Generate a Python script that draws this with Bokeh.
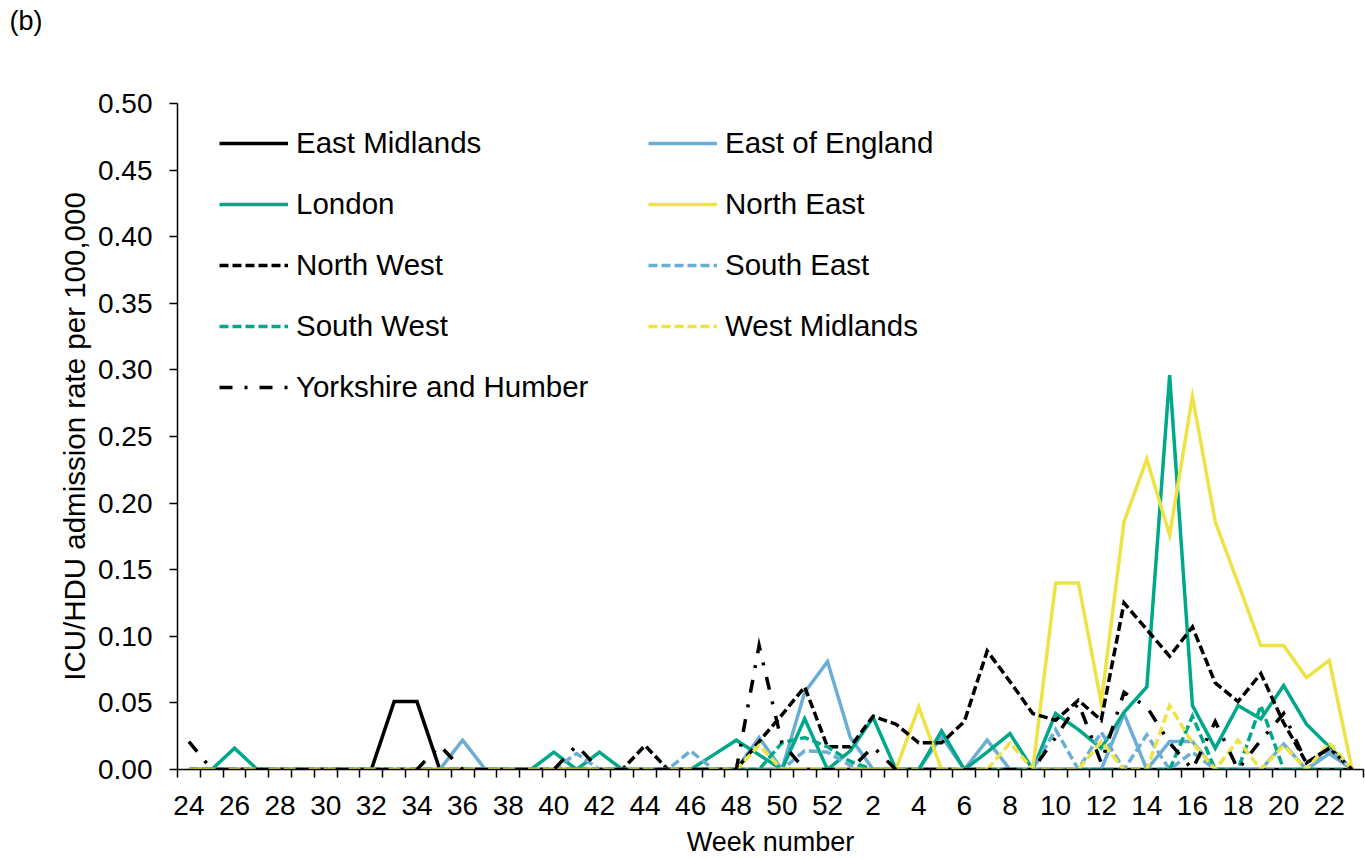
from bokeh.plotting import figure
from bokeh.models import Range1d, FixedTicker, Legend, LegendItem, PrintfTickFormatter
from bokeh.embed import file_html
from bokeh.resources import INLINE

# ---------------- data ----------------
weeks = [24, 25, 26, 27, 28, 29, 30, 31, 32, 33, 34, 35, 36, 37, 38, 39, 40, 41, 42, 43,
         44, 45, 46, 47, 48, 49, 50, 51, 52, 1, 2, 3, 4, 5, 6, 7, 8, 9, 10, 11, 12, 13,
         14, 15, 16, 17, 18, 19, 20, 21, 22, 23]

east_midlands = [0, 0, 0, 0, 0, 0, 0, 0, 0, 0.051, 0.051, 0, 0, 0, 0, 0, 0, 0, 0, 0,
                 0, 0, 0, 0, 0, 0, 0, 0, 0, 0, 0, 0, 0, 0, 0, 0, 0, 0, 0, 0, 0, 0,
                 0, 0, 0, 0, 0, 0, 0, 0, 0, 0]
east_of_england = [0, 0, 0, 0, 0, 0, 0, 0, 0, 0, 0, 0, 0.022, 0, 0, 0, 0, 0, 0, 0,
                   0, 0, 0, 0, 0, 0.024, 0, 0.058, 0.081, 0.024, 0, 0, 0, 0.025, 0, 0.022, 0, 0, 0, 0, 0, 0.042,
                   0, 0.021, 0.021, 0, 0, 0, 0.019, 0, 0.012, 0]
london = [0, 0, 0.016, 0, 0, 0, 0, 0, 0, 0, 0, 0, 0, 0, 0, 0, 0.013, 0, 0.013, 0,
          0, 0, 0, 0.011, 0.022, 0.011, 0, 0.038, 0, 0.014, 0.039, 0, 0, 0.029, 0, 0.013, 0.027, 0, 0.042, 0.030, 0.016, 0.043,
          0.062, 0.296, 0.048, 0.016, 0.048, 0.038, 0.063, 0.034, 0.017, 0]
north_east = [0, 0, 0, 0, 0, 0, 0, 0, 0, 0, 0, 0, 0, 0, 0, 0, 0, 0, 0, 0,
              0, 0, 0, 0, 0, 0, 0, 0, 0, 0, 0, 0, 0.047, 0, 0, 0, 0, 0, 0.140, 0.140, 0.050, 0.186,
              0.233, 0.176, 0.280, 0.186, 0.140, 0.093, 0.093, 0.069, 0.082, 0]
north_west = [0, 0, 0, 0, 0, 0, 0, 0, 0, 0, 0, 0, 0, 0, 0, 0, 0, 0, 0, 0,
              0.018, 0, 0, 0, 0, 0.021, 0.041, 0.062, 0.017, 0.017, 0.040, 0.034, 0.020, 0.020, 0.036, 0.089, 0.066, 0.042, 0.037, 0.052, 0.037, 0.125,
              0.105, 0.085, 0.107, 0.065, 0.051, 0.072, 0.035, 0.005, 0.016, 0]
south_east = [0, 0, 0, 0, 0, 0, 0, 0, 0, 0, 0, 0, 0, 0, 0, 0, 0, 0.012, 0, 0,
              0, 0, 0.014, 0, 0, 0, 0, 0.014, 0.013, 0.003, 0, 0, 0, 0, 0, 0, 0, 0, 0.030, 0, 0.028, 0,
              0.026, 0, 0.013, 0, 0, 0, 0, 0, 0.015, 0]
south_west = [0, 0, 0, 0, 0, 0, 0, 0, 0, 0, 0, 0, 0, 0, 0, 0, 0, 0, 0, 0,
              0, 0, 0, 0, 0, 0, 0.020, 0.024, 0.017, 0.006, 0, 0, 0, 0, 0, 0, 0, 0, 0, 0, 0, 0,
              0, 0, 0.040, 0, 0, 0.048, 0, 0, 0, 0]
west_midlands = [0, 0, 0, 0, 0, 0, 0, 0, 0, 0, 0, 0, 0, 0, 0, 0, 0, 0, 0, 0,
                 0, 0, 0, 0, 0, 0.018, 0, 0, 0, 0, 0, 0, 0, 0, 0, 0, 0.020, 0, 0, 0, 0.021, 0,
                 0, 0.048, 0.020, 0, 0.022, 0, 0.018, 0, 0.020, 0]
yorkshire = [0.021, 0, 0, 0, 0, 0, 0, 0, 0, 0, 0, 0.018, 0, 0, 0, 0, 0, 0.018, 0, 0,
             0, 0, 0, 0, 0, 0.093, 0.020, 0, 0, 0, 0.017, 0, 0, 0, 0, 0, 0, 0, 0.024, 0.050, 0.005, 0.058,
             0.047, 0.020, 0, 0.036, 0, 0.022, 0.042, 0.005, 0.016, 0]

series_names = ["East Midlands", "East of England", "London", "North East", "North West",
                "South East", "South West", "West Midlands", "Yorkshire and Humber"]
series_values = [east_midlands, east_of_england, london, north_east, north_west,
                 south_east, south_west, west_midlands, yorkshire]
panel_letter = "(b)"

BLACK = "#000000"
BLUE = "#6AAED6"
TEAL = "#00A88A"
YELLOW = "#EEE244"
styles = [
    (BLACK, "solid"), (BLUE, "solid"), (TEAL, "solid"), (YELLOW, "solid"),
    (BLACK, "9 4"), (BLUE, "9 4"), (TEAL, "9 4"), (YELLOW, "9 4"),
    (BLACK, "13 12 3 12"),
]

FONT = "Liberation Sans"
x = list(range(len(weeks)))

W, H = 1365, 859
p = figure(width=W, height=H, output_backend="svg", toolbar_location=None,
           x_range=Range1d(-0.5, len(weeks) - 0.5), y_range=Range1d(0, 0.5),
           min_border_left=177, min_border_right=2, min_border_top=103, min_border_bottom=90)
p.outline_line_color = None
p.xgrid.visible = False
p.ygrid.visible = False
p.background_fill_color = "white"
p.border_fill_color = "white"

# panel letter as the plot title, pulled to the top-left corner of the canvas
# (two empty trailing lines make the title panel fill the top border)
p.title.text = panel_letter + "\n\n"
p.title.align = "left"
p.title.offset = -168
p.title.standoff = 11
p.title.text_font = FONT
p.title.text_font_size = "27px"
p.title.text_font_style = "normal"
p.title.text_color = "black"
p.title.vertical_align = "top"

renderers = []
for vals, (col, dash) in zip(series_values, styles):
    r = p.line(x, vals, line_color=col, line_width=3.5, line_dash=dash, line_join="miter")
    renderers.append(r)

# x axis: labels under every other week, tick marks between weeks
xa = p.xaxis[0]
xa.ticker = FixedTicker(ticks=[i for i in x if i % 2 == 0],
                        minor_ticks=[i - 0.5 for i in range(len(weeks) + 1)])
xa.major_label_overrides = {i: str(weeks[i]) for i in x if i % 2 == 0}
xa.major_tick_out = 0
xa.major_tick_in = 0
xa.minor_tick_out = 8
xa.minor_tick_in = 0
xa.minor_tick_line_color = "black"
xa.minor_tick_line_width = 1.5
xa.axis_line_color = "black"
xa.axis_line_width = 1.5
xa.major_label_standoff = 18
xa.major_label_text_font = FONT
xa.major_label_text_font_size = "28px"
xa.major_label_text_color = "black"
xa.axis_label = "Week number"
xa.axis_label_text_font = FONT
xa.axis_label_text_font_size = "27px"
xa.axis_label_text_font_style = "normal"
xa.axis_label_text_color = "black"
xa.axis_label_standoff = 9

ya = p.yaxis[0]
ya.ticker = FixedTicker(ticks=[0, 0.05, 0.1, 0.15, 0.2, 0.25, 0.3, 0.35, 0.4, 0.45, 0.5])
ya.formatter = PrintfTickFormatter(format="%.2f")
ya.major_tick_out = 8
ya.major_tick_in = 0
ya.minor_tick_out = 0
ya.minor_tick_in = 0
ya.major_tick_line_color = "black"
ya.major_tick_line_width = 1.5
ya.axis_line_color = "black"
ya.axis_line_width = 1.5
ya.major_label_standoff = 17
ya.major_label_text_font = FONT
ya.major_label_text_font_size = "28px"
ya.major_label_text_color = "black"
ya.axis_label = "ICU/HDU admission rate per 100,000"
ya.axis_label_text_font = FONT
ya.axis_label_text_font_size = "29.5px"
ya.axis_label_text_font_style = "normal"
ya.axis_label_text_color = "black"
ya.axis_label_standoff = 4

# legends (two columns, row-major order as in the reference)
def make_legend(idxs, loc):
    lg = Legend(items=[LegendItem(label=series_names[i], renderers=[renderers[i]]) for i in idxs],
                location=loc, orientation="vertical")
    lg.label_text_font = FONT
    lg.label_text_font_size = "29.5px"
    lg.label_text_color = "black"
    lg.glyph_width = 69
    lg.glyph_height = 30
    lg.label_height = 30
    lg.label_standoff = 8
    lg.spacing = 27
    lg.padding = 0
    lg.margin = 0
    lg.border_line_color = None
    lg.background_fill_alpha = 0
    return lg

p.add_layout(make_legend([0, 2, 4, 6, 8], (42, 365)))
p.add_layout(make_legend([1, 3, 5, 7], (471, 426)))

open("out.html", "w").write(file_html(p, INLINE))
